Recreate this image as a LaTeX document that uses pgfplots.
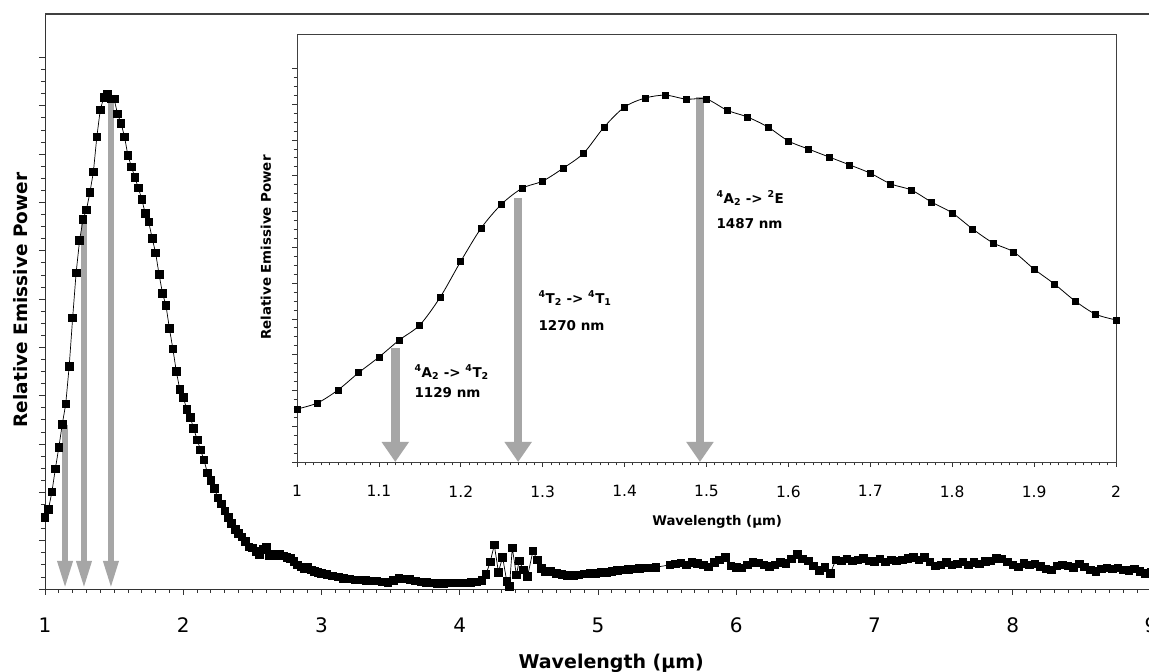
\documentclass[border=0pt]{standalone}
\usepackage{fontspec}
\setmainfont{DejaVu Sans}
\usepackage{pgfplots}
\pgfplotsset{compat=1.18}
\usepackage{pgfplotstable}
\usetikzlibrary{arrows.meta}
\definecolor{arrowgray}{RGB}{166,166,166}

\pgfplotstableread{
x y
1.000 1.48
1.025 1.65
1.050 2.01
1.075 2.49
1.100 2.93
1.125 3.41
1.150 3.83
1.175 4.61
1.200 5.61
1.225 6.54
1.250 7.21
1.275 7.65
1.300 7.85
1.325 8.21
1.350 8.63
1.375 9.36
1.400 9.92
1.425 10.17
1.450 10.25
1.475 10.14
1.500 10.14
1.525 9.83
1.550 9.64
1.575 9.36
1.600 8.97
1.625 8.74
1.650 8.52
1.675 8.30
1.700 8.07
1.725 7.77
1.750 7.60
1.775 7.26
1.800 6.96
1.825 6.51
1.850 6.12
1.875 5.87
1.900 5.39
1.925 4.97
1.950 4.50
1.975 4.13
2.000 3.97
}\insetdata

\pgfplotstableread{
x y
2.000 3.97
2.025 3.72
2.050 3.55
2.075 3.33
2.100 3.09
2.125 2.88
2.150 2.67
2.175 2.40
2.200 2.25
2.225 2.08
2.250 1.89
2.275 1.76
2.300 1.62
2.325 1.48
2.350 1.36
2.375 1.24
2.400 1.15
2.425 1.08
2.450 0.98
2.475 0.87
2.500 0.85
2.525 0.78
2.550 0.71
2.575 0.82
2.600 0.86
2.625 0.70
2.650 0.72
2.675 0.70
2.700 0.73
2.725 0.69
2.750 0.66
2.775 0.63
2.800 0.57
2.825 0.50
2.850 0.46
2.875 0.43
2.900 0.46
2.925 0.40
2.950 0.36
2.975 0.34
3.000 0.32
3.04 0.30
3.08 0.27
3.12 0.25
3.16 0.22
3.20 0.21
3.24 0.19
3.28 0.19
3.32 0.18
3.36 0.17
3.40 0.17
3.44 0.15
3.48 0.14
3.52 0.18
3.56 0.22
3.60 0.21
3.64 0.20
3.68 0.17
3.72 0.15
3.76 0.14
3.80 0.13
3.84 0.12
3.88 0.12
3.92 0.13
3.96 0.13
4.00 0.13
4.04 0.13
4.08 0.14
4.12 0.15
4.16 0.18
4.19 0.30
4.22 0.56
4.25 0.91
4.28 0.35
4.31 0.66
4.34 0.16
4.36 0.06
4.38 0.85
4.41 0.29
4.43 0.58
4.46 0.40
4.49 0.26
4.53 0.79
4.56 0.60
4.59 0.43
4.62 0.36
4.66 0.36
4.70 0.32
4.74 0.30
4.78 0.28
4.82 0.28
4.86 0.29
4.90 0.31
4.94 0.32
4.98 0.33
5.02 0.34
5.06 0.35
5.10 0.37
5.14 0.39
5.18 0.40
5.22 0.41
5.26 0.42
5.30 0.43
5.34 0.44
5.38 0.44
5.42 0.45
5.52 0.50
5.56 0.52
5.60 0.54
5.64 0.50
5.68 0.55
5.72 0.53
5.76 0.50
5.80 0.46
5.84 0.55
5.88 0.60
5.92 0.66
5.96 0.48
6.00 0.45
6.04 0.44
6.08 0.50
6.12 0.55
6.16 0.54
6.20 0.50
6.24 0.47
6.28 0.50
6.32 0.55
6.36 0.53
6.40 0.62
6.44 0.72
6.48 0.62
6.52 0.58
6.56 0.48
6.60 0.38
6.64 0.45
6.68 0.32
6.72 0.60
6.76 0.58
6.80 0.62
6.84 0.58
6.88 0.60
6.92 0.63
6.96 0.58
7.00 0.57
7.04 0.62
7.08 0.56
7.12 0.60
7.16 0.58
7.20 0.60
7.24 0.64
7.28 0.66
7.32 0.60
7.36 0.66
7.40 0.56
7.44 0.48
7.48 0.50
7.52 0.55
7.56 0.50
7.60 0.52
7.64 0.56
7.68 0.50
7.72 0.55
7.76 0.52
7.80 0.57
7.84 0.58
7.88 0.64
7.92 0.62
7.96 0.56
8.00 0.50
8.04 0.46
8.08 0.53
8.12 0.50
8.16 0.52
8.20 0.47
8.24 0.42
8.28 0.40
8.32 0.48
8.36 0.50
8.40 0.48
8.44 0.45
8.48 0.52
8.52 0.46
8.56 0.40
8.60 0.36
8.64 0.42
8.68 0.44
8.72 0.42
8.76 0.44
8.80 0.40
8.84 0.38
8.88 0.42
8.92 0.36
8.96 0.33
9.00 0.35
}\taildata

\begin{document}
\begin{tikzpicture}
\begin{axis}[
  at={(45pt,83pt)}, anchor=south west,
  scale only axis, width=1106pt, height=575pt,
  xmin=1, xmax=9, ymin=0, ymax=11.9,
  clip=false,
  axis x line*=bottom, axis y line*=left,
  axis line style={black!80, line width=1pt},
  xtick={1,2,3,4,5,6,7,8,9}, minor x tick num=9,
  ytick={0,1,...,11}, minor y tick num=3, yticklabels={},
  tick align=outside, major tick length=6pt, minor tick length=4pt,
  tick style={black!80, line width=0.8pt},
  /pgf/number format/assume math mode=true,
  xticklabel style={font=\fontsize{20}{24}\selectfont, yshift=-19pt},
  xlabel={Wavelength (μm)},
  xlabel style={font=\bfseries\fontsize{19}{22}\selectfont, at={(axis description cs:0.512,0)}, anchor=base, yshift=-79pt},
  ylabel={Relative Emissive Power},
  ylabel style={font=\bfseries\fontsize{18.5}{22}\selectfont, at={(axis description cs:-0.0217,0.5026)}, anchor=center},
]
\draw[black!75, line width=1.2pt] (rel axis cs:0,1) -- (rel axis cs:1,1);
\draw[arrowgray, line width=6pt, -{Triangle[width=14pt,length=28pt]}] (axis cs:1.145,3.4) -- (axis cs:1.145,0);
\draw[arrowgray, line width=6pt, -{Triangle[width=14pt,length=28pt]}] (axis cs:1.282,7.68) -- (axis cs:1.282,0);
\draw[arrowgray, line width=6pt, -{Triangle[width=14pt,length=28pt]}] (axis cs:1.477,10.2) -- (axis cs:1.477,0);
\addplot[black, line width=0.7pt, mark=square*, mark size=3.8pt, mark options={solid, fill=black}] table {\insetdata};
\addplot[black, line width=0.7pt, mark=square*, mark size=3.8pt, mark options={solid, fill=black}] table {\taildata};
\end{axis}

\begin{axis}[
  at={(297pt,210pt)}, anchor=south west,
  scale only axis, width=819pt, height=428pt,
  xmin=1, xmax=2, ymin=0, ymax=11.96,
  clip=false,
  axis background/.style={fill=white},
  axis line style={black!75, line width=0.9pt},
  tick pos=left,
  xtick={1,1.1,1.2,1.3,1.4,1.5,1.6,1.7,1.8,1.9,2}, minor x tick num=9,
  ytick={0,1,...,11}, minor y tick num=3, yticklabels={},
  tick align=outside, major tick length=5pt, minor tick length=3.5pt,
  tick style={black!80, line width=0.7pt},
  /pgf/number format/assume math mode=true,
  xticklabel style={font=\fontsize{15.5}{18}\selectfont, yshift=-15pt},
  xlabel={Wavelength (μm)},
  xlabel style={font=\bfseries\fontsize{13.3}{16}\selectfont, at={(axis description cs:0.513,0)}, anchor=base, yshift=-64pt},
  ylabel={Relative Emissive Power},
  ylabel style={font=\bfseries\fontsize{13.4}{16}\selectfont, at={(axis description cs:-0.0379,0.501)}, anchor=center},
]
\draw[arrowgray, line width=8.5pt, -{Triangle[width=26pt,length=20pt]}] (axis cs:1.12,3.18) -- (axis cs:1.12,0);
\draw[arrowgray, line width=8.5pt, -{Triangle[width=26pt,length=20pt]}] (axis cs:1.27,7.37) -- (axis cs:1.27,0);
\draw[arrowgray, line width=8.5pt, -{Triangle[width=26pt,length=20pt]}] (axis cs:1.492,10.2) -- (axis cs:1.492,0);
\addplot[black, line width=0.8pt, smooth, mark=square*, mark size=3pt, mark options={solid, fill=black}] table {\insetdata};
\node[anchor=base west, font=\bfseries\fontsize{13.5}{15}\selectfont] at (axis cs:1.1392,2.374) {\textsuperscript{4}A\textsubscript{2} -> \textsuperscript{4}T\textsubscript{2}};
\node[anchor=base west, font=\bfseries\fontsize{13.5}{15}\selectfont] at (axis cs:1.1392,1.816) {1129 nm};
\node[anchor=base west, font=\bfseries\fontsize{13.5}{15}\selectfont] at (axis cs:1.2906,4.44) {\textsuperscript{4}T\textsubscript{2} -> \textsuperscript{4}T\textsubscript{1}};
\node[anchor=base west, font=\bfseries\fontsize{13.5}{15}\selectfont] at (axis cs:1.2906,3.687) {1270 nm};
\node[anchor=base west, font=\bfseries\fontsize{13.5}{15}\selectfont] at (axis cs:1.508,7.235) {\textsuperscript{4}A\textsubscript{2} -> \textsuperscript{2}E};
\node[anchor=base west, font=\bfseries\fontsize{13.5}{15}\selectfont] at (axis cs:1.508,6.536) {1487 nm};
\end{axis}
\pgfresetboundingbox
\path[use as bounding box] (0,0) rectangle (1149pt,672pt);
\end{tikzpicture}
\end{document}
